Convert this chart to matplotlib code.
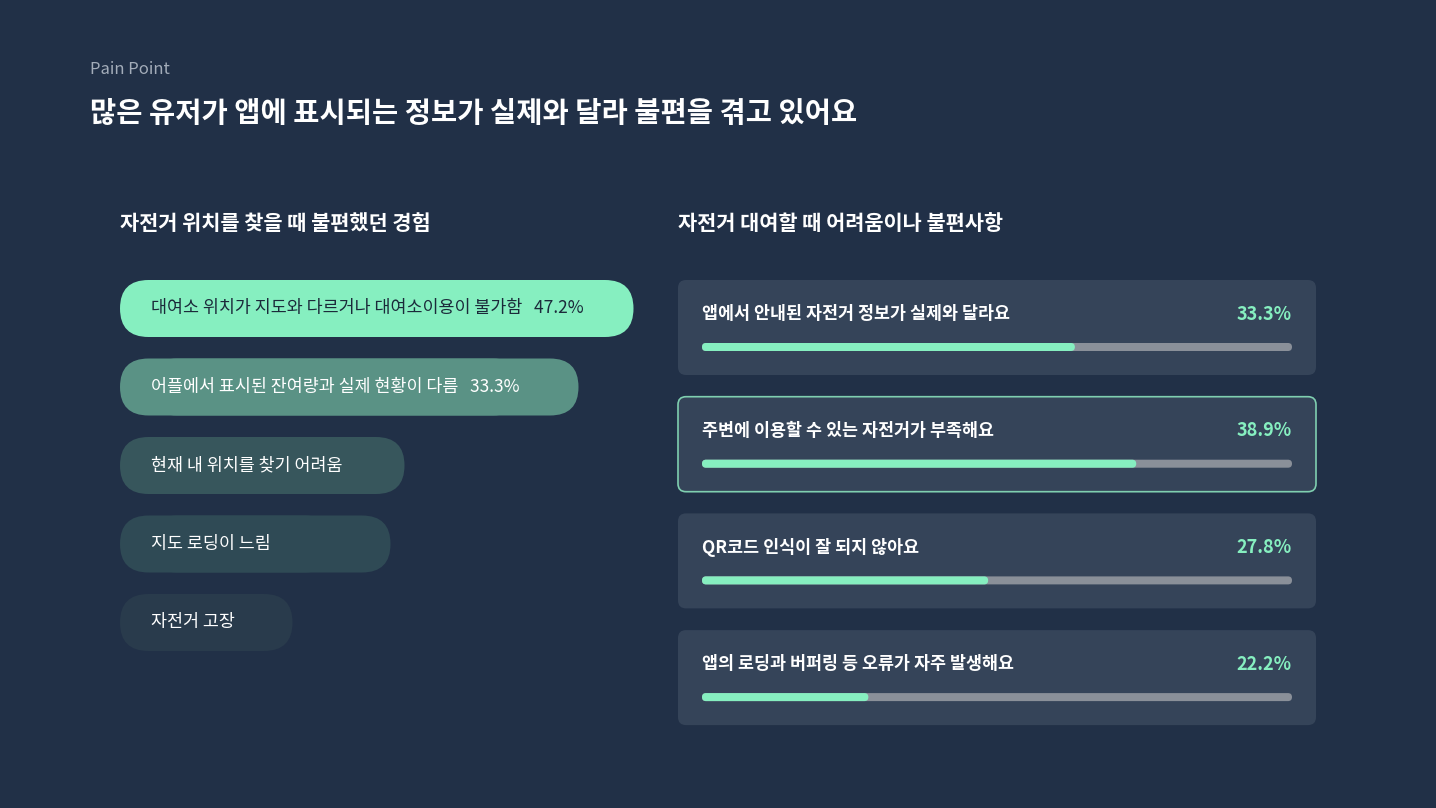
import matplotlib
matplotlib.use("Agg")
import matplotlib.pyplot as plt
from matplotlib.patches import FancyBboxPatch

plt.rcParams['font.family'] = ['Noto Sans CJK KR', 'DejaVu Sans']

BG = '#213047'
GREEN = '#86efc0'

# Left: pain points when finding bike location
left_labels = ['대여소 위치가 지도와 다르거나 대여소이용이 불가함', '어플에서 표시된 잔여량과 실제 현황이 다름',
               '현재 내 위치를 찾기 어려움', '지도 로딩이 느림', '자전거 고장']
left_values = ['47.2%', '33.3%', '', '', '']
left_colors = ['#86efc0', '#5a9285', '#37565c', '#2f4a55', '#293b4c']
left_text_colors = ['#1b2a3a', '#ffffff', '#ffffff', '#ffffff', '#ffffff']
left_widths = [485, 430, 256, 242, 144]  # pill widths in px

# Right: difficulties when renting
right_labels = ['앱에서 안내된 자전거 정보가 실제와 달라요', '주변에 이용할 수 있는 자전거가 부족해요',
                'QR코드 인식이 잘 되지 않아요', '앱의 로딩과 버퍼링 등 오류가 자주 발생해요']
right_values = [33.3, 38.9, 27.8, 22.2]
right_fill = [63.2, 73.6, 48.5, 28.2]  # bar fill % as drawn
highlight = 1

fig = plt.figure(figsize=(14.36, 8.08), dpi=100, facecolor=BG)
ax = fig.add_axes([0, 0, 1, 1])
ax.set_xlim(0, 1436)
ax.set_ylim(808, 0)
ax.axis('off')
ax.set_facecolor(BG)

ax.text(90, 70, 'Pain Point', color='#a3acb9', fontsize=12, va='center')
ax.text(90, 114, '많은 유저가 앱에 표시되는 정보가 실제와 달라 불편을 겪고 있어요',
        color='white', fontsize=20.5, fontweight='bold', va='center')

ax.text(120, 224, '자전거 위치를 찾을 때 불편했던 경험', color='white', fontsize=15,
        fontweight='bold', va='center')
ax.text(678, 224, '자전거 대여할 때 어려움이나 불편사항', color='white', fontsize=15,
        fontweight='bold', va='center')

for i, (lab, val) in enumerate(zip(left_labels, left_values)):
    y0 = 280 + i * 78.5
    h = 57
    w = left_widths[i]
    ax.add_patch(FancyBboxPatch((120 + h / 2, y0), w - h + 0, h,
                                boxstyle=f'round,pad=0,rounding_size={h/2}',
                                fc=left_colors[i], ec='none'))
    ax.add_patch(FancyBboxPatch((120, y0), w + h / 2 + 0, h,
                                boxstyle=f'round,pad=0,rounding_size={h/2}',
                                fc=left_colors[i], ec='none'))
    txt = lab + ('   ' + val if val else '')
    ax.text(151, y0 + h / 2, txt, color=left_text_colors[i], fontsize=12.5, va='center')

for i, (lab, val) in enumerate(zip(right_labels, right_values)):
    y0 = 280 + i * 116.7
    ec = '#7fcfb0' if i == highlight else 'none'
    ax.add_patch(FancyBboxPatch((678, y0), 638, 95,
                                boxstyle='round,pad=0,rounding_size=8',
                                fc='#354459', ec=ec, lw=1.2))
    ax.text(702, y0 + 34, lab, color='white', fontsize=12.5, fontweight='bold', va='center')
    ax.text(1292, y0 + 34, f'{val}%', color=GREEN, fontsize=13, fontweight='bold',
            va='center', ha='right')
    ax.add_patch(FancyBboxPatch((702, y0 + 63), 590, 8,
                                boxstyle='round,pad=0,rounding_size=4',
                                fc='#8a9099', ec='none'))
    ax.add_patch(FancyBboxPatch((702, y0 + 63), 590 * right_fill[i] / 100, 8,
                                boxstyle='round,pad=0,rounding_size=4',
                                fc=GREEN, ec='none'))

fig.savefig('out.png', dpi=100, facecolor=BG)
